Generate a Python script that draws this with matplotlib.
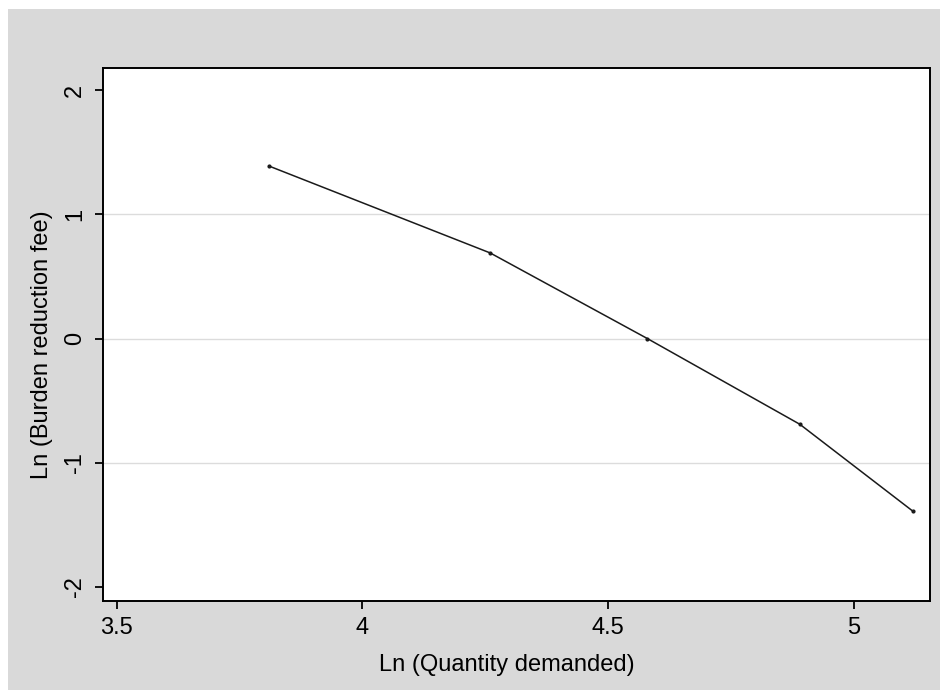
import matplotlib.pyplot as plt
from matplotlib.patches import Rectangle

plt.rcParams['font.family'] = ['Liberation Sans', 'DejaVu Sans']

# ln of quantity demanded vs ln of burden reduction fee
ln_qty = [3.81, 4.26, 4.58, 4.89, 5.12]
ln_fee = [1.39, 0.69, 0.0, -0.69, -1.39]

x_ticks = [3.5, 4, 4.5, 5]
x_ticklabels = ['3.5', '4', '4.5', '5']
y_ticks = [-2, -1, 0, 1, 2]
y_ticklabels = ['-2', '-1', '0', '1', '2']
grid_at = [-1, 0, 1]

fig = plt.figure(figsize=(9.4, 6.9), dpi=100)
fig.patch.set_facecolor('white')
# gray graph region (Stata style)
fig.add_artist(Rectangle((8/940, 0), 1, 1 - 9/690, transform=fig.transFigure,
                         facecolor='#d9d9d9', edgecolor='none', zorder=-10))

ax = fig.add_axes([102.7/940, 1 - 600.5/690, (930 - 102.7)/940, (600.5 - 68)/690])
ax.set_facecolor('white')

for g in grid_at:
    ax.axhline(g, color='#dcdcdc', lw=1, zorder=1)

ax.plot(ln_qty, ln_fee, color='#1a1a1a', lw=1.1, marker='o', ms=2, zorder=3)

ax.set_xlim(3.4715, 5.155)
ax.set_ylim(-2.11, 2.18)
ax.set_xticks(x_ticks)
ax.set_xticklabels(x_ticklabels)
ax.set_yticks(y_ticks)
ax.set_yticklabels(y_ticklabels, rotation=90, va='center')

ax.tick_params(axis='both', direction='out', length=6, width=1.3, labelsize=17, colors='black')
ax.tick_params(axis='x', pad=6)
ax.tick_params(axis='y', pad=6)
for s in ax.spines.values():
    s.set_linewidth(1.4)
    s.set_color('black')

ax.set_xlabel('Ln (Quantity demanded)', fontsize=17, labelpad=11, x=0.488)
ax.set_ylabel('Ln (Burden reduction fee)', fontsize=17, labelpad=8, y=0.48)

fig.savefig('out.png', dpi=100)
